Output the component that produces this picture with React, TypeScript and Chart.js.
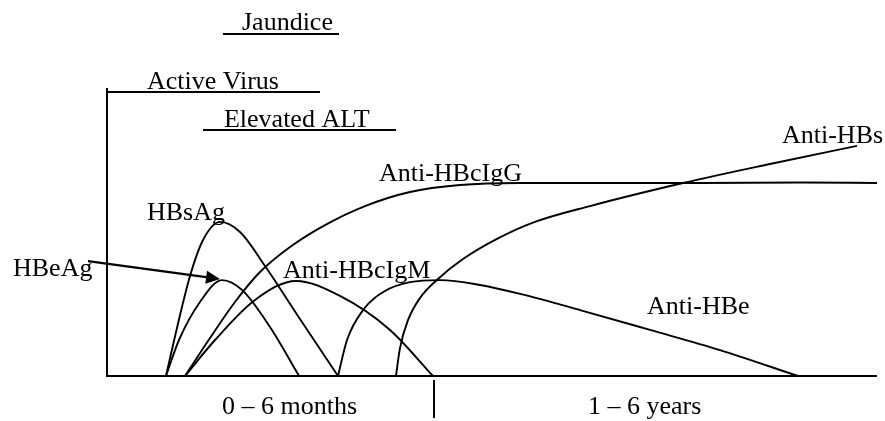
import React, { useEffect, useRef } from "react";
import { Chart, registerables } from "chart.js";

Chart.register(...registerables);

// ---- Data (x: relative time position 0..100, y: relative level 0..100) ----
const hbsagX = [7.66, 9.09, 10.78, 12.47, 14.68, 17.27, 20.52, 25.06, 30.0];
const hbsagY = [0, 16.7, 34.7, 47.2, 53.5, 50.0, 38.2, 19.8, 0];

const hbeagX = [7.66, 9.35, 12.08, 14.94, 17.53, 21.17, 24.94];
const hbeagY = [0, 12.5, 25.7, 33.3, 29.9, 17.0, 0];

const iggX = [10.13, 13.38, 16.62, 19.87, 23.77, 28.31, 33.51, 39.35, 45.84, 53.64, 64.03, 77.01, 90.0, 100];
const iggY = [0, 13.2, 25.7, 36.1, 44.8, 52.4, 59.0, 63.9, 66.3, 67.0, 67.0, 67.0, 67.2, 67.0];

const igmX = [10.13, 14.03, 19.22, 24.55, 30.26, 36.75, 42.34];
const igmY = [0, 12.5, 26.4, 33.0, 27.8, 16.0, 0];

const antiHbeX = [30.0, 31.17, 33.25, 36.1, 39.35, 43.25, 48.44, 53.64, 61.43, 70.52, 79.61, 89.74];
const antiHbeY = [0, 12.5, 22.9, 29.5, 32.6, 33.3, 31.6, 28.5, 22.9, 16.0, 9.0, 0];

const antiHbsX = [37.53, 38.05, 39.09, 40.65, 42.99, 46.23, 50.65, 55.58, 62.73, 74.81, 86.1, 97.4];
const antiHbsY = [0, 9.7, 19.4, 27.1, 33.7, 40.6, 47.6, 53.5, 59.0, 67.0, 73.6, 79.9];

// Clinical phases (start/end on the time axis)
const phaseNames = ["Jaundice", "Active Virus", "Elevated ALT"];
const phaseStart = [15.06, 0, 12.47];
const phaseEnd = [30.13, 27.66, 37.53];

// Time periods on the x axis
const periodLabels = ["0 – 6 months", "1 – 6 years"];
const periodBoundary = 42.47;

const seriesNames = ["HBsAg", "HBeAg", "Anti-HBcIgG", "Anti-HBcIgM", "Anti-HBe", "Anti-HBs"];

// ---- Layout (positions of annotations in scale units) ----
const FONT = '26px "Liberation Serif", "Times New Roman", serif';
const phaseLayout = [
  { textX: 17.53, textY: 120.2, lineY: 118.75 },
  { textX: 5.19, textY: 99.7, lineY: 98.6 },
  { textX: 15.19, textY: 86.5, lineY: 85.4 },
];
const seriesLabelLayout = [
  { x: 5.19, y: 54.2 },
  { x: -12.21, y: 34.8 },
  { x: 35.32, y: 67.8 },
  { x: 22.86, y: 34.1 },
  { x: 70.13, y: 21.6 },
  { x: 87.66, y: 80.95 },
];
const periodLabelLayout = [
  { x: 14.94, y: -13.2 },
  { x: 62.47, y: -13.2 },
];
const arrowLayout = { x0: -2.47, y0: 39.9, x1: 14.68, y1: 33.65 };
const tickLayout = { y0: -1.39, y1: -14.58 };

function toPoints(xs: number[], ys: number[]) {
  return xs.map((x, i) => ({ x, y: ys[i] }));
}

const annotationPlugin = {
  id: "hbvAnnotations",
  afterDatasetsDraw(chart: any) {
    const ctx = chart.ctx as CanvasRenderingContext2D;
    const xs = chart.scales.x;
    const ys = chart.scales.y;
    const px = (v: number) => xs.getPixelForValue(v);
    const py = (v: number) => ys.getPixelForValue(v);
    ctx.save();
    ctx.strokeStyle = "#000";
    ctx.fillStyle = "#000";
    ctx.lineCap = "butt";

    // axes
    ctx.lineWidth = 2;
    ctx.beginPath();
    ctx.moveTo(px(0), py(100));
    ctx.lineTo(px(0), py(0));
    ctx.lineTo(px(100), py(0));
    ctx.stroke();

    // period boundary tick
    ctx.beginPath();
    ctx.moveTo(px(periodBoundary), py(tickLayout.y0));
    ctx.lineTo(px(periodBoundary), py(tickLayout.y1));
    ctx.stroke();

    ctx.font = FONT;
    ctx.textAlign = "left";
    ctx.textBaseline = "alphabetic";

    // phases with underline
    phaseNames.forEach((name, i) => {
      const l = phaseLayout[i];
      ctx.fillText(name, px(l.textX), py(l.textY));
      ctx.lineWidth = 2;
      ctx.beginPath();
      ctx.moveTo(px(phaseStart[i]), py(l.lineY));
      ctx.lineTo(px(phaseEnd[i]), py(l.lineY));
      ctx.stroke();
    });

    // series labels
    seriesNames.forEach((name, i) => {
      const l = seriesLabelLayout[i];
      ctx.fillText(name, px(l.x), py(l.y));
    });

    // period labels
    periodLabels.forEach((name, i) => {
      const l = periodLabelLayout[i];
      ctx.fillText(name, px(l.x), py(l.y));
    });

    // arrow
    const ax0 = px(arrowLayout.x0), ay0 = py(arrowLayout.y0);
    const ax1 = px(arrowLayout.x1), ay1 = py(arrowLayout.y1);
    const ang = Math.atan2(ay1 - ay0, ax1 - ax0);
    const headLen = 14, headW = 6.5;
    const bx = ax1 - headLen * Math.cos(ang);
    const by = ay1 - headLen * Math.sin(ang);
    ctx.lineWidth = 2.2;
    ctx.beginPath();
    ctx.moveTo(ax0, ay0);
    ctx.lineTo(bx, by);
    ctx.stroke();
    ctx.beginPath();
    ctx.moveTo(ax1, ay1);
    ctx.lineTo(bx - headW * Math.sin(ang), by + headW * Math.cos(ang));
    ctx.lineTo(bx + headW * Math.sin(ang), by - headW * Math.cos(ang));
    ctx.closePath();
    ctx.fill();

    ctx.restore();
  },
};

export default function App() {
  const ref = useRef<HTMLCanvasElement | null>(null);
  useEffect(() => {
    if (!ref.current) return;
    const seriesData = [
      toPoints(hbsagX, hbsagY),
      toPoints(hbeagX, hbeagY),
      toPoints(iggX, iggY),
      toPoints(igmX, igmY),
      toPoints(antiHbeX, antiHbeY),
      toPoints(antiHbsX, antiHbsY),
    ];
    const chart = new Chart(ref.current, {
      type: "line",
      data: {
        datasets: seriesData.map((d, i) => ({
          label: seriesNames[i],
          data: d,
          borderColor: "#000",
          borderWidth: 1.9,
          pointRadius: 0,
          fill: false,
          cubicInterpolationMode: "monotone" as const,
          clip: false as any,
        })),
      },
      options: {
        responsive: false,
        animation: false,
        layout: { padding: { left: 107, right: 8, top: 88, bottom: 45 } },
        plugins: { legend: { display: false }, tooltip: { enabled: false } },
        scales: {
          x: { type: "linear", min: 0, max: 100, display: false },
          y: { type: "linear", min: 0, max: 100, display: false },
        },
      },
      plugins: [annotationPlugin],
    });
    return () => chart.destroy();
  }, []);
  return (
    <div style={{ position: "absolute", left: 0, top: 0, width: 885, height: 421, background: "#fff" }}>
      <canvas ref={ref} width={885} height={421} style={{ display: "block", width: 885, height: 421 }} />
    </div>
  );
}
